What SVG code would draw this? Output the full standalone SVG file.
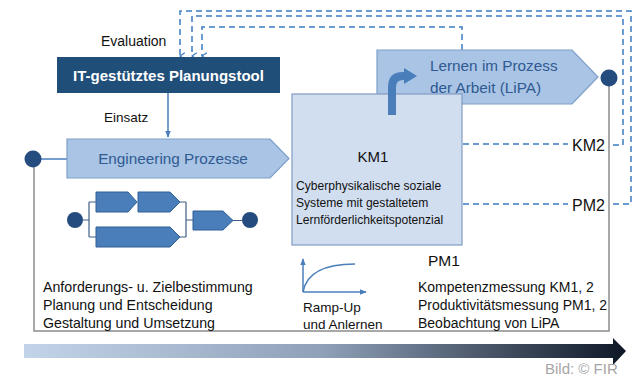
<svg xmlns="http://www.w3.org/2000/svg" width="639" height="379" viewBox="0 0 639 379">
<defs>
<style>
.t{font-family:"Liberation Sans",Arial,sans-serif;fill:#111}
.blue{fill:#2F5A92}
.dash{fill:none;stroke:#3A7BC2;stroke-width:1.5;stroke-dasharray:6,4}
.gray{fill:none;stroke:#8C8C8C;stroke-width:1.5}
.big{fill:#A9C4E4;stroke:#7E9FC8;stroke-width:1.2}
.small{fill:#4A7EBB;stroke:#2F5F95;stroke-width:1}
.dot{fill:#244C7E}
.thin{fill:none;stroke:#3F5F85;stroke-width:1.2}
.sol{fill:none;stroke:#4A7EBB;stroke-width:1.5}
</style>
<marker id="va" viewBox="0 0 10 10" refX="5" refY="9" markerWidth="8" markerHeight="8" markerUnits="userSpaceOnUse" orient="auto-start-reverse">
<path d="M1,3 L5,9 L9,3" fill="none" stroke="#3A7BC2" stroke-width="1.5"/>
</marker>
<marker id="sa" viewBox="0 0 10 10" refX="9" refY="5" markerWidth="7" markerHeight="7" markerUnits="userSpaceOnUse" orient="auto">
<path d="M0,1 L10,5 L0,9 Z" fill="#4A7EBB"/>
</marker>
<linearGradient id="grad" x1="0" y1="0" x2="1" y2="0">
<stop offset="0" stop-color="#C3D4EA"/>
<stop offset="0.5" stop-color="#8E9FB7"/>
<stop offset="1" stop-color="#0E1726"/>
</linearGradient>
</defs>

<g id="connectors">
<path class="gray" d="M34,159 V331 H609 V78"/>
<path class="dash" d="M613,204 H631 V11 H180 V56" marker-end="url(#va)"/>
<path class="dash" d="M613,145 H623 V16 H192 V56" marker-end="url(#va)"/>
<path class="dash" d="M462,50 V27 H202 V56" marker-end="url(#va)"/>
<path class="dash" d="M463,144 H568"/>
<path class="dash" d="M463,204 H568"/>
<path class="sol" d="M168,93 V137" marker-end="url(#sa)"/>
<path class="sol" d="M41,159 H67"/>
</g>

<g id="bottom-arrow">
<polygon points="24,344 613,344 613,338 626,351 613,365 613,358 24,358" fill="url(#grad)"/>
</g>

<g id="planning-tool">
<rect x="57" y="57" width="223" height="36" fill="#1F4E79"/>
<text class="t" x="168.5" y="81" text-anchor="middle" font-size="15" font-weight="bold" style="fill:#fff">IT-gestütztes Planungstool</text>
</g>
<text class="t" x="101" y="46" font-size="14">Evaluation</text>
<text class="t" x="104" y="122" font-size="13.5">Einsatz</text>

<g id="left-dot"><circle class="dot" cx="33" cy="159" r="8.5"/></g>

<g id="engineering">
<polygon class="big" points="67,139 270,139 289,158.5 270,178 67,178"/>
<text class="t blue" x="173" y="164" text-anchor="middle" font-size="15.3">Engineering Prozesse</text>
</g>

<g id="mini-process">
<path class="thin" d="M83,220 H89 M89,202 V237 M89,202 H96 M89,237 H96 M180,202 H186 M180,237 H186 M186,202 V237 M186,220 H193 M233,220.5 H242"/>
<circle class="dot" cx="75" cy="220" r="8"/>
<polygon class="small" points="96,192 128,192 137,202 128,212 96,212"/>
<polygon class="small" points="138,192 170,192 180,202 170,212 138,212"/>
<polygon class="small" points="96,227 170,227 180,237 170,247 96,247"/>
<polygon class="small" points="193,211 223,211 233,220.5 223,230 193,230"/>
<circle class="dot" cx="250" cy="220" r="8"/>
</g>

<g id="lipa">
<polygon class="big" points="377,50 572,50 598,77 572,104 377,104"/>
<text class="t blue" font-size="15.3"><tspan x="430" y="71">Lernen im Prozess</tspan><tspan x="430" y="93">der Arbeit (LiPA)</tspan></text>
</g>

<g id="km1">
<rect x="292" y="94" width="170" height="151" fill="#D1DEF0" stroke="#7F9BC2" stroke-width="1.2"/>
<text class="t" x="373" y="162" text-anchor="middle" font-size="15">KM1</text>
<text class="t" font-size="12.1"><tspan x="296" y="190">Cyberphysikalische soziale</tspan><tspan x="296" y="207">Systeme mit gestaltetem</tspan><tspan x="296" y="224">Lernförderlichkeitspotenzial</tspan></text>
</g>

<g id="bent-arrow">
<path d="M392,115 V87 Q392,76 403,76 H405" fill="none" stroke="#4A7EBB" stroke-width="8"/>
<polygon points="404,68 417,76 404,84" fill="#4A7EBB"/>
</g>

<g id="right-dot"><circle class="dot" cx="609" cy="78" r="8.5"/></g>

<text class="t" x="572" y="151" font-size="16">KM2</text>
<text class="t" x="572" y="211" font-size="16">PM2</text>
<text class="t" x="428" y="266" font-size="15.5">PM1</text>

<g id="ramp-up">
<path class="sol" d="M303,292 V259" marker-end="url(#sa)"/>
<path class="sol" d="M303,292 H366" marker-end="url(#sa)"/>
<path class="sol" d="M303,292 C306,275 320,264 355,264"/>
<text class="t" font-size="13.5"><tspan x="303" y="312">Ramp-Up</tspan><tspan x="303" y="329">und Anlernen</tspan></text>
</g>

<text class="t" font-size="14.2"><tspan x="43" y="292">Anforderungs- u. Zielbestimmung</tspan><tspan x="43" y="310">Planung und Entscheidung</tspan><tspan x="43" y="328">Gestaltung und Umsetzung</tspan></text>
<text class="t" font-size="14"><tspan x="418" y="292">Kompetenzmessung KM1, 2</tspan><tspan x="418" y="310">Produktivitätsmessung PM1, 2</tspan><tspan x="418" y="328">Beobachtung von LiPA</tspan></text>
<text class="t" x="545" y="374" font-size="15" style="fill:#A6A6A6">Bild: © FIR</text>
</svg>
